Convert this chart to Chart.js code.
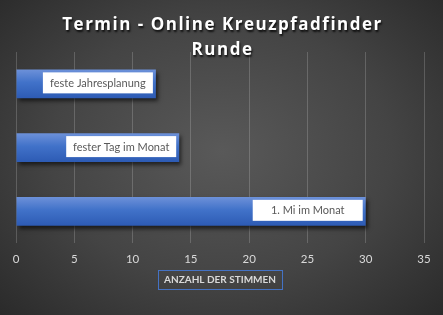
<!DOCTYPE html>
<html>
<head>
<meta charset="utf-8">
<script src="https://cdn.jsdelivr.net/npm/chart.js@4/dist/chart.umd.min.js"></script>
<style>
  html, body { margin: 0; padding: 0; }
  #wrap {
    width: 443px; height: 315px; position: relative;
    background: radial-gradient(ellipse 70% 75% at 50% 48%, #595959 0%, #444 55%, #2a2a2a 100%);
  }
</style>
</head>
<body>
<div id="wrap"><canvas id="chart" width="443" height="315"></canvas></div>
<script>
// === Données ===
const titleLines = ["Termin - Online Kreuzpfadfinder", "Runde"];
const categories = ["feste Jahresplanung", "fester Tag im Monat", "1. Mi im Monat"];
const votes = [12, 14, 30];
const xTicks = [0, 5, 10, 15, 20, 25, 30, 35];
const axisTitle = "ANZAHL DER STIMMEN";

const barPct = 0.45;

// dégradé bleu pour chaque barre
function barGradient(ctx) {
    const chart = ctx.chart;
    const area = chart.chartArea;
    if (!area || !chart.scales.y) return "#4472c4";
    const yc = chart.scales.y.getPixelForValue(ctx.dataIndex);
    const h = (area.bottom - area.top) / categories.length * barPct;
    const g = chart.ctx.createLinearGradient(0, yc - h / 2, 0, yc + h / 2);
    g.addColorStop(0, "#6d91d9");
    g.addColorStop(0.45, "#4172c9");
    g.addColorStop(1, "#2d5bb4");
    return g;
}

const decoPlugin = {
    id: "deco",
    beforeDatasetDraw(chart) {
        const c = chart.ctx;
        c.save();
        c.shadowColor = "rgba(0,0,0,0.6)";
        c.shadowBlur = 4;
        c.shadowOffsetX = 2;
        c.shadowOffsetY = 3;
    },
    afterDatasetDraw(chart) {
        chart.ctx.restore();
    },
    afterDraw(chart) {
        const c = chart.ctx;
        // titre
        c.save();
        c.font = "bold 17px 'Open Sans'";
        c.letterSpacing = "1.5px";
        c.textAlign = "center";
        c.textBaseline = "alphabetic";
        c.fillStyle = "#ffffff";
        c.shadowColor = "rgba(0,0,0,0.8)";
        c.shadowBlur = 2;
        c.shadowOffsetX = 1;
        c.shadowOffsetY = 2;
        titleLines.forEach((t, i) => c.fillText(t, chart.width / 2 + 1, 30 + i * 25));
        c.restore();

        // étiquettes des barres
        const meta = chart.getDatasetMeta(0);
        c.save();
        c.font = "11px Lato";
        c.textBaseline = "middle";
        meta.data.forEach((bar, i) => {
            const txt = categories[i];
            const w = Math.max(c.measureText(txt).width + 10, 110);
            const h = 21;
            const x1 = bar.x - 3;
            const x0 = x1 - w;
            c.fillStyle = "#ffffff";
            c.fillRect(x0, bar.y - h / 2 - 1, w, h);
            c.fillStyle = "#595959";
            c.textAlign = "center";
            c.fillText(txt, (x0 + x1) / 2, bar.y - 0.5);
        });
        c.restore();

        // titre de l'axe avec cadre
        c.save();
        c.font = "bold 10px Lato";
        const tw = c.measureText(axisTitle).width;
        const cx = (chart.chartArea.left + chart.chartArea.right) / 2;
        const cy = 280;
        c.strokeStyle = "#4472c4";
        c.lineWidth = 1;
        c.strokeRect(Math.round(cx - tw / 2 - 6) + 0.5, cy - 10 + 0.5, Math.round(tw + 12), 19);
        c.fillStyle = "#d9d9d9";
        c.textAlign = "center";
        c.textBaseline = "middle";
        c.fillText(axisTitle, cx, cy);
        c.restore();
    }
};

new Chart(document.getElementById("chart"), {
    type: "bar",
    data: {
        labels: categories,
        datasets: [{
            data: votes,
            backgroundColor: barGradient,
            borderWidth: 0,
            categoryPercentage: 1,
            barPercentage: barPct
        }]
    },
    options: {
        indexAxis: "y",
        responsive: false,
        animation: false,
        layout: { padding: { top: 52, left: 16, right: 19, bottom: 0 } },
        plugins: {
            legend: { display: false },
            title: { display: false },
            tooltip: { enabled: false }
        },
        scales: {
            x: {
                min: 0,
                max: 35,
                afterBuildTicks: scale => { scale.ticks = xTicks.map(v => ({ value: v })); },
                grid: { color: "rgba(255,255,255,0.18)", drawTicks: false },
                border: { display: false },
                ticks: {
                    color: "#d9d9d9",
                    font: { family: "Lato", size: 11.5 },
                    padding: 9
                },
                title: {
                    display: true,
                    text: " ",
                    font: { size: 10 },
                    padding: { top: 6, bottom: 22 }
                }
            },
            y: {
                display: false
            }
        }
    },
    plugins: [decoPlugin]
});
</script>
</body>
</html>
